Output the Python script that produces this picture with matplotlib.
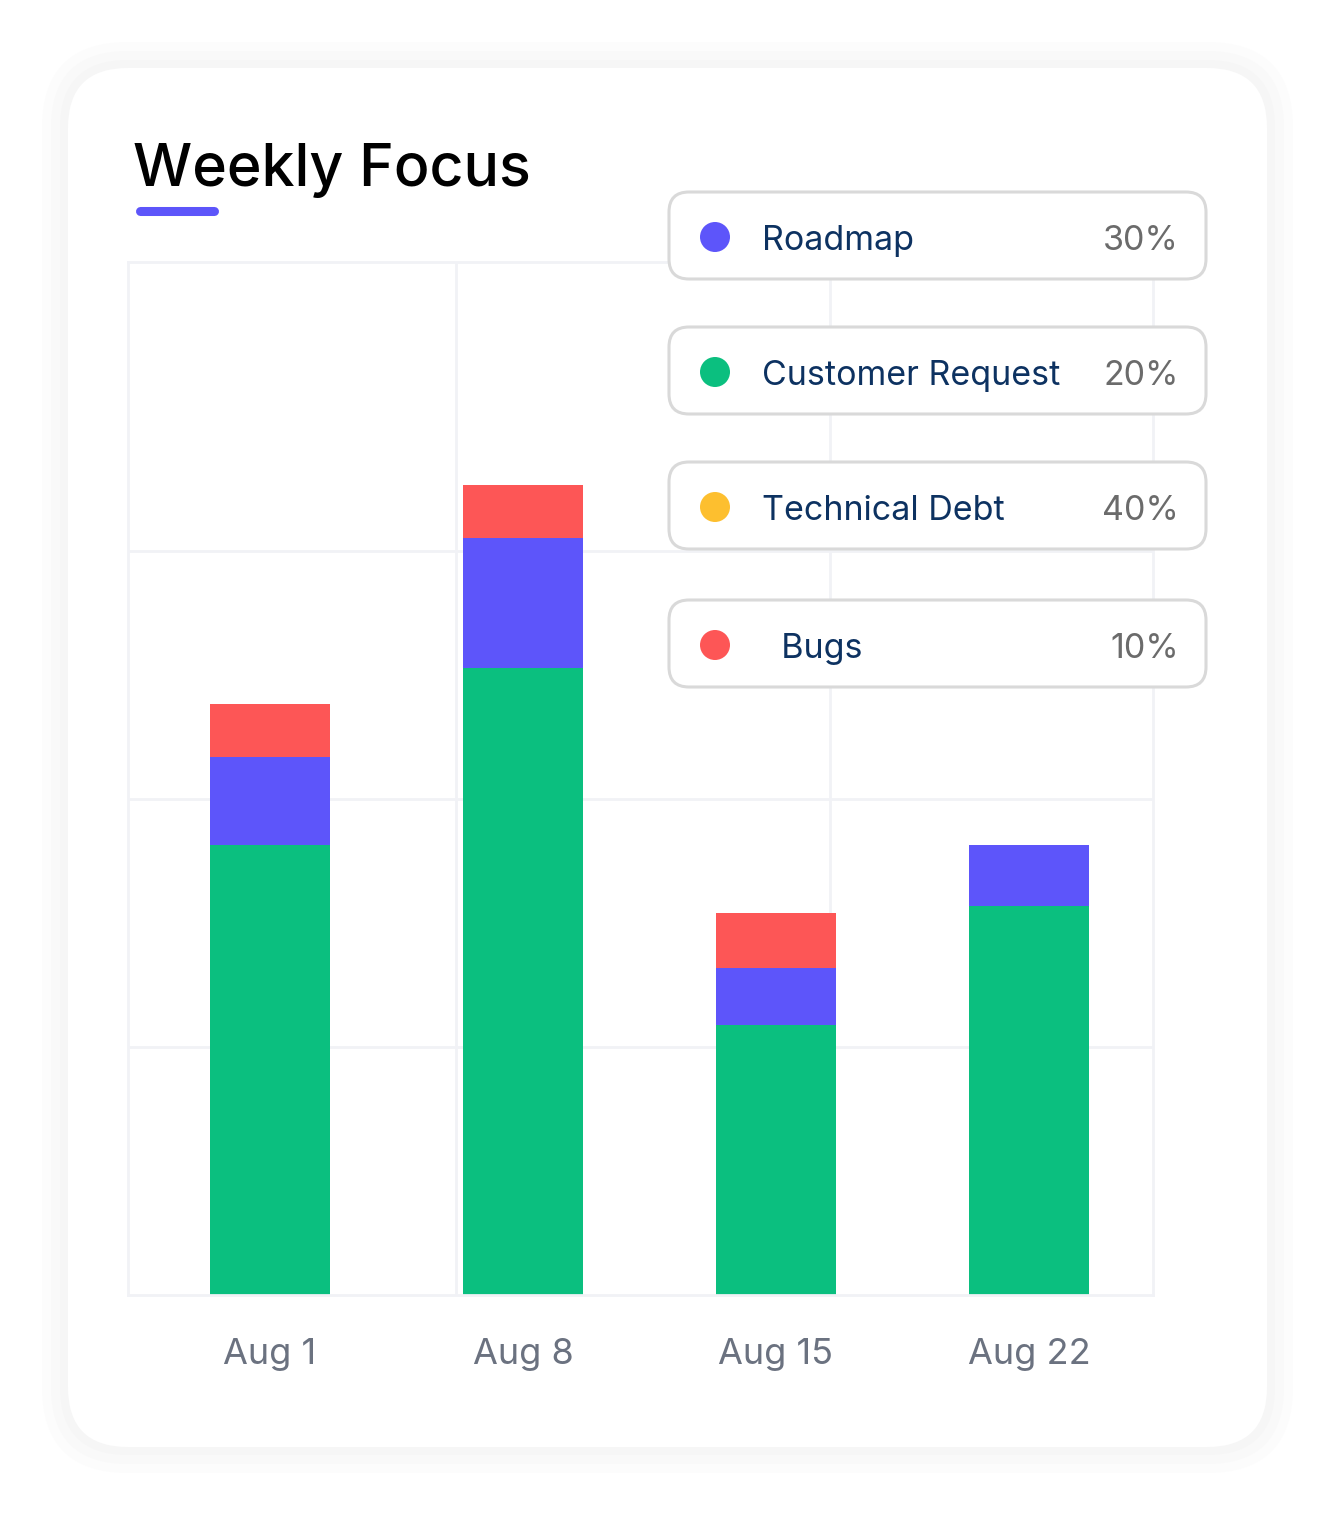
import numpy as np
import matplotlib
matplotlib.use("Agg")
import matplotlib.pyplot as plt
from matplotlib.patches import FancyBboxPatch, Circle

plt.rcParams['font.family'] = ['Inter', 'DejaVu Sans']

# data
weeks = ["Aug 1", "Aug 8", "Aug 15", "Aug 22"]
customer = [43.6, 60.7, 26.1, 37.7]
roadmap = [8.5, 12.6, 5.6, 5.9]
bugs = [5.1, 5.1, 5.3, 0.0]
tech_debt = [0.0, 0.0, 0.0, 0.0]

legend_names = ["Roadmap", "Customer Request", "Technical Debt", "  Bugs"]
legend_share = ["30%", "20%", "40%", "10%"]

GREEN = "#0bbf7f"
BLUE = "#5d55fa"
RED = "#fd5656"
YELLOW = "#fdbf2f"
legend_colors = [BLUE, GREEN, YELLOW, RED]

W, H = 1335, 1515
fig = plt.figure(figsize=(W / 100, H / 100), dpi=100)
fig.patch.set_facecolor("white")

# background layer in pixel coordinates: card + soft shadow
bg = fig.add_axes([0, 0, 1, 1], zorder=0)
bg.set_xlim(0, W)
bg.set_ylim(H, 0)
bg.axis("off")
for pad, col in [(26, "#fcfcfc"), (17, "#f9f9f9"), (8, "#f6f6f6")]:
    bg.add_patch(FancyBboxPatch((68 - pad, 68 - pad), 1199 + 2 * pad, 1379 + 2 * pad,
                                boxstyle="round,pad=0,rounding_size=%d" % (60 + pad),
                                fc=col, ec="none"))
bg.add_patch(FancyBboxPatch((68, 68), 1199, 1379, boxstyle="round,pad=0,rounding_size=60",
                            fc="white", ec="none"))
bg.text(133, 186, "Weekly Focus", fontsize=42.5, fontweight="medium", color="black",
        va="baseline", ha="left")
bg.plot([140, 214], [211, 211], color=BLUE, lw=6.5, solid_capstyle="round")

# the chart
ax = fig.add_axes([128 / W, 1 - 1295 / H, 1025 / W, 1033 / H], zorder=1)
ax.set_facecolor("none")
x = np.arange(len(weeks))
width = 0.474
bottom = np.zeros(len(weeks))
for vals, col in [(customer, GREEN), (roadmap, BLUE), (bugs, RED), (tech_debt, YELLOW)]:
    ax.bar(x, vals, width, bottom=bottom, color=col, zorder=2)
    bottom += np.array(vals)

ax.set_xlim(-0.561, 3.49)
ax.set_ylim(0, 100)
grid_col = "#f1f2f6"
for yv in [24, 48, 72]:
    ax.axhline(yv, color=grid_col, lw=2, zorder=1)
for xv in [0.735, 2.213]:
    ax.axvline(xv, color=grid_col, lw=2, zorder=1)
for s in ax.spines.values():
    s.set_color(grid_col)
    s.set_linewidth(2)
ax.set_yticks([])
ax.set_xticks(x)
ax.set_xticklabels(weeks, fontsize=26, color="#6b7280")
ax.tick_params(axis="x", length=0, pad=31)

# legend cards on top
fg = fig.add_axes([0, 0, 1, 1], zorder=3)
fg.set_facecolor("none")
fg.set_xlim(0, W)
fg.set_ylim(H, 0)
fg.axis("off")
box_tops = [192, 327, 462, 600]
for top, name, share, col in zip(box_tops, legend_names, legend_share, legend_colors):
    fg.add_patch(FancyBboxPatch((669, top), 537, 87, boxstyle="round,pad=0,rounding_size=20",
                                fc="white", ec="#d9d9d9", lw=2.2))
    cy = top + 45
    fg.add_patch(Circle((715, cy), 15, fc=col, ec="none"))
    fg.text(762, cy + 13, name, fontsize=24.5, color="#0d3261", va="baseline", ha="left")
    fg.text(1179, cy + 13, share, fontsize=24.5, color="#6b6b6b", va="baseline", ha="right")

fig.savefig("out.png", dpi=100, facecolor="white")
